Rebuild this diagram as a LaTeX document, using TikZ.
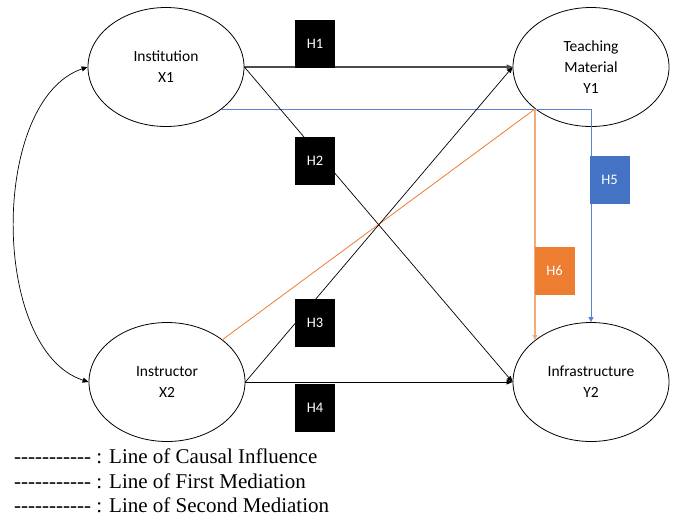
\documentclass[tikz,border=0pt]{standalone}
\usepackage{fontspec}
\setmainfont{Liberation Serif}
\newfontfamily\calib{Carlito}
\usetikzlibrary{shapes.geometric,arrows.meta}
\definecolor{hblue}{HTML}{4472C4}
\definecolor{hblueline}{HTML}{5A82D0}
\definecolor{horange}{HTML}{ED7D31}
\definecolor{horangelight}{HTML}{F4AB7A}
\newcommand{\dashrow}{-\kern0pt-\kern0pt-\kern0pt-\kern0pt-\kern0pt-\kern0pt-\kern0pt-\kern0pt-\kern0pt-\kern0pt-}
\tikzset{
  var/.style={draw=black, line width=0.8pt, ellipse, minimum width=156pt, minimum height=119pt, inner sep=0pt, align=center, font=\calib\fontsize{15.5}{21}\selectfont},
  hbox/.style={fill=black, minimum width=40pt, minimum height=48pt, inner sep=0pt, text=white, font=\calib\fontsize{14.5}{16}\selectfont},
  causal/.style={draw=black, line width=0.7pt, -{Triangle[length=6pt,width=5pt]}},
  legendtext/.style={anchor=west, inner sep=0pt, font=\fontsize{21}{24}\selectfont}
}
\begin{document}
\begin{tikzpicture}[x=1pt,y=-1pt]
\useasboundingbox (0,0) rectangle (677,517);
% variables
\node[var] (X1) at (166,67) {Institution\\X1};
\node[var] (Y1) at (591,67) {Teaching\\Material\\Y1};
\node[var] (X2) at (167,382) {Instructor\\X2};
\node[var] (Y2) at (591,382) {Infrastructure\\Y2};
% helper coordinates
\coordinate (b0) at (221,109);
\coordinate (b1) at (591,109);
\coordinate (o0) at (222,340);
\coordinate (o1) at (535,109);
\coordinate (o2) at (535,340);
% correlation curve
\draw[line width=0.7pt, {Triangle[length=6pt,width=5pt]}-{Triangle[length=6pt,width=5pt]}]
  (X1.west) .. controls (-10,100) and (-10,350) .. (X2.west);
% mediation lines
\draw[hblueline, line width=1pt] (b0) -- (b1);
\draw[hblueline, line width=1pt, -{Triangle[length=5pt,width=5pt]}] (b1) -- (Y2.north);
\draw[horange, line width=0.8pt] (o0) -- (o1);
\draw[horangelight, line width=1.1pt, -{Triangle[length=5pt,width=5pt]}] (o1) -- (o2);
% causal lines
\draw[causal, draw=black!70, line width=1.1pt] (X1.east) -- (Y1.west);
\draw[causal] (X1.east) -- (Y2.west);
\draw[causal] (X2.east) -- (Y1.west);
\draw[causal] (X2.east) -- (Y2.west);
% hypothesis boxes
\node[hbox] (H1) at (315,44) {H1};
\node[hbox] (H2) at (315,161) {H2};
\node[hbox] (H3) at (315,323) {H3};
\node[hbox] (H4) at (315,408) {H4};
\node[hbox, fill=hblue] (H5) at (609.5,180) {H5};
\node[hbox, fill=horange] (H6) at (554.5,271) {H6};
% legend
\node[legendtext] (L1) at (14,456) {\dashrow{} : Line of Causal Influence};
\node[legendtext] (L2) at (14,481) {\dashrow{} : Line of First Mediation};
\node[legendtext] (L3) at (14,505) {\dashrow{} : Line of Second Mediation};
\end{tikzpicture}
\end{document}
